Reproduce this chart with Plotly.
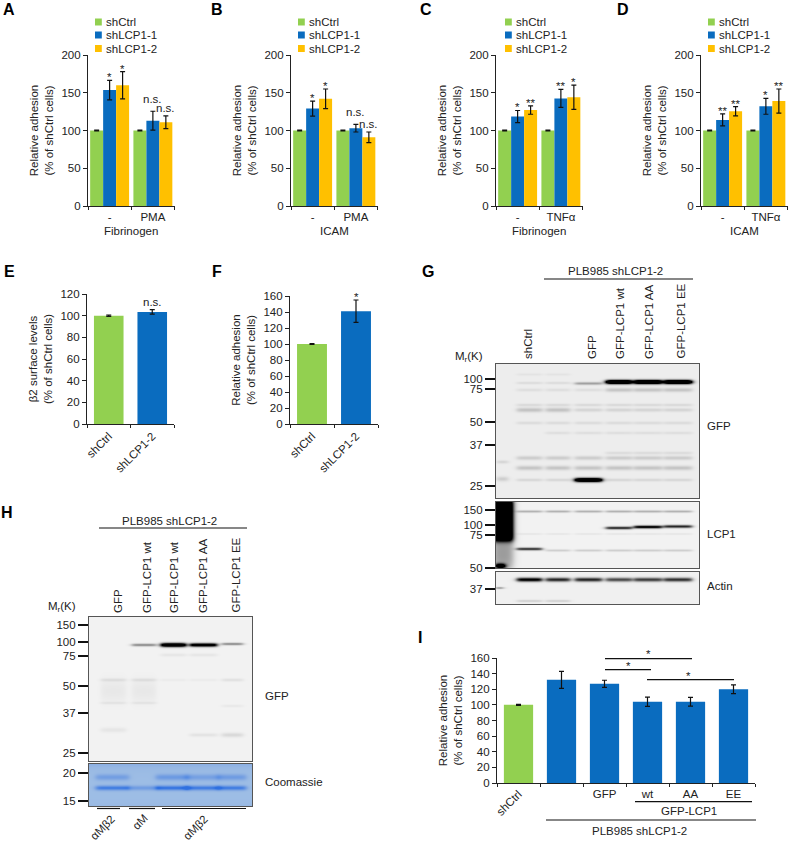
import numpy as np
import plotly.graph_objects as go

W, H = 791, 842
GREEN, BLUE, YELLOW = "#92D050", "#0A6CBF", "#FFC000"
INK = "#222222"
FONT = "Liberation Sans, Arial, sans-serif"
FS = 11.5

SERIES = ["shCtrl", "shLCP1-1", "shLCP1-2"]

# ---- grouped bar data
A_cats = ["-", "PMA"]
A_ctrl = [100, 100]; A_ctrl_err = [0.6, 0.6]
A_sh1 = [153.5, 113]; A_sh1_err = [13, 12.5]
A_sh2 = [160, 111]; A_sh2_err = [18, 8.5]
A_sig = [["*", "n.s."], ["*", "n.s."]]

B_cats = ["-", "PMA"]
B_ctrl = [100, 100]; B_ctrl_err = [0.6, 0.6]
B_sh1 = [129, 103]; B_sh1_err = [10, 5]
B_sh2 = [142, 91]; B_sh2_err = [13, 7]
B_sig = [["*", "n.s."], ["*", "n.s."]]

C_cats = ["-", "TNFα"]
C_ctrl = [100, 100]; C_ctrl_err = [0.6, 0.6]
C_sh1 = [118.5, 142.5]; C_sh1_err = [8, 12]
C_sh2 = [127, 144]; C_sh2_err = [5.5, 16]
C_sig = [["*", "**"], ["**", "*"]]

D_cats = ["-", "TNFα"]
D_ctrl = [100, 100]; D_ctrl_err = [0.6, 0.6]
D_sh1 = [114, 132]; D_sh1_err = [8, 10.5]
D_sh2 = [125.5, 139]; D_sh2_err = [6, 16]
D_sig = [["**", "*"], ["**", "**"]]

# ---- simple bar data
E_cats = ["shCtrl", "shLCP1-2"]
E_vals = [100, 103.5]; E_errs = [0.6, 2]
F_cats = ["shCtrl", "shLCP1-2"]
F_vals = [100, 141]; F_errs = [0.6, 14]
I_cats = ["shCtrl", "shLCP1-2", "GFP", "wt", "AA", "EE"]
I_ticks = ["", "", "GFP", "wt", "AA", "EE"]
I_vals = [100, 132, 127, 104, 104, 120]
I_errs = [0.6, 11, 4.5, 6, 5.5, 5.5]

# ---- blot band tables: lanes, row, thickness, darkness
G_lanes = [(21, 46), (50, 74), (79, 106), (110, 136), (138, 166), (168, 196)]
G_gfp_bands = [
    ([3, 4, 5], 18, 2.0, 1.7), ([2], 19.5, 1.4, .3), ([2], 116, 2.0, 1.6),
    ([0, 1], 10.5, 1.3, .04), ([0, 1], 19, 1.3, .07), ([0, 1, 2], 26, 1.6, .06), ([3, 4, 5], 26, 2, .16),
    ([0, 1, 2, 3, 4, 5], 41, 1.4, .08), ([0, 1], 46, 2.2, .17), ([2, 3, 4, 5], 46, 1.8, .1),
    ([0, 1, 2, 3, 4, 5], 59, 1.6, .07), ([1, 2, 3, 4, 5], 69, 1.5, .06), ([3, 4, 5], 89, 1.5, .07),
    ([0, 1, 2, 3, 4, 5], 94, 2, .13), ([0, 1, 2, 3, 4, 5], 104, 2.2, .16), ([0, 1, 3, 4, 5], 116, 1.5, .09),
]
G_gfp_marker = [(98, 1.6, .1), (115, 2.4, .13)]
G_lcp_bands = [
    ([0, 1, 2, 3, 4, 5], 9.5, 1.2, .25), ([0], 47, 1.4, .75), ([1, 2, 3, 4, 5], 48.5, 1.2, .14),
    ([3], 26, 1.4, .8), ([4], 25, 1.5, 1.0), ([5], 24.5, 1.5, .8),
    ([0, 1, 2, 3, 4, 5], 32, 1, .05),
]
G_act_dark = [1.0, .8, .8, .65, .7, .75]
H_lanes = [(12, 37), (43, 67), (72, 97), (101, 128), (133, 154)]
H_gfp_bands = [
    ([1], 28, 1.4, .4), ([2], 28, 2.0, 1.4), ([3], 28, 1.8, 1.2), ([4], 27, 1.3, .4),
    ([2, 3], 38, 1.6, .05), ([0, 1, 4], 63, 1.6, .07), ([2, 3], 63, 1.4, .03),
    ([0, 1], 74, 12, .04), ([0, 1], 86, 1.3, .05), ([0], 113, 2.5, .05),
    ([3], 118, 1.8, .06), ([4], 118, 2.2, .1), ([4], 89, 1.5, .04),
]
H_coo_upper = [.6, 0, .7, .55, .65]
H_coo_lower = [.9, .45, 1, .9, .9]

G_gfp_mw = [(15, "100"), (25, "75"), (58, "50"), (81, "37"), (122, "25")]
G_lcp_mw = [(8, "150"), (23, "100"), (33, "75"), (65.5, "50")]
G_act_mw = [(17, "37")]
H_gfp_mw = [(8, "150"), (25, "100"), (39, "75"), (69, "50"), (96, "37"), (136, "25")]
H_coo_mw = [(9, "20"), (37, "15")]


def fx(x):
    return x / W


def fy(y):
    return 1 - y / H


fig = go.Figure()
shapes, annots = [], []
n_ax = [0]


def text(x, y, s, size=FS, angle=0, xa="center", ya="middle", color=INK, bold=False):
    if xa == "left":
        x -= 2
    annots.append(dict(x=fx(x), y=fy(y), xref="paper", yref="paper", text=f"<b>{s}</b>" if bold else s,
                       showarrow=False, textangle=angle, xanchor=xa, yanchor=ya,
                       font=dict(family=FONT, size=size, color=color)))


def line(x0, x1, y, w=1.2):
    shapes.append(dict(type="line", xref="paper", yref="paper", x0=fx(x0), x1=fx(x1), y0=fy(y), y1=fy(y),
                       line=dict(color="#111111", width=w)))


def new_axes(x0, x1, ytop, ybot):
    n_ax[0] += 1
    n = n_ax[0]
    xn, yn = f"xaxis{n}", f"yaxis{n}"
    fig.update_layout({xn: dict(domain=[fx(x0), fx(x1)], anchor=f"y{n}", automargin=False),
                       yn: dict(domain=[fy(ybot), fy(ytop)], anchor=f"x{n}", automargin=False)})
    return n, f"x{n}", f"y{n}", xn, yn


def style_axes(xn, yn, ymax, dtick, ytitle, standoff, nc, tickangle=0, ticktext=None, cats=None):
    xa = dict(type="category", range=[-.5, nc - .5], showline=True, linecolor=INK, linewidth=1.2, ticks="outside",
              tickson="boundaries", ticklen=3, tickcolor=INK, showgrid=False, zeroline=False,
              tickfont=dict(family=FONT, size=FS, color=INK), tickangle=tickangle, fixedrange=True,
              categoryorder="array", categoryarray=cats, automargin=False)
    if ticktext is not None:
        xa.update(tickmode="array", tickvals=cats, ticktext=ticktext)
    ya = dict(range=[0, ymax], dtick=dtick, showline=True, linecolor=INK, linewidth=1.2, ticks="outside", ticklen=4,
              tickcolor=INK, showgrid=False, zeroline=False, tickfont=dict(family=FONT, size=FS, color=INK),
              title=dict(text=ytitle, standoff=standoff, font=dict(family=FONT, size=FS, color=INK)),
              fixedrange=True, automargin=False)
    fig.update_layout({xn: xa, yn: ya})


def bar(xr, yr, x, y, e, color, name, width, offset=None):
    fig.add_trace(go.Bar(x=x, y=y, name=name, xaxis=xr, yaxis=yr, width=width, offset=offset,
                         marker=dict(color=color, line=dict(width=0)), showlegend=False,
                         error_y=dict(type="data", array=e, color="#111111", thickness=1.2, width=2.5)))


def grouped(letter, lx, ax0, cats, ctrl, ctrl_e, s1, s1_e, s2, s2_e, sig, sub, legx):
    n, xr, yr, xn, yn = new_axes(ax0, ax0 + 86.5, 55, 206)
    style_axes(xn, yn, 200, 50, "Relative adhesion<br>(% of shCtrl cells)", 5, 2, cats=cats)
    for vals, err, col, name, off in ((ctrl, ctrl_e, GREEN, SERIES[0], -.45), (s1, s1_e, BLUE, SERIES[1], -.15),
                                      (s2, s2_e, YELLOW, SERIES[2], .15)):
        bar(xr, yr, cats, vals, err, col, name, .3, off)
    for j, (vals, err, pos) in enumerate(((s1, s1_e, 0), (s2, s2_e, .3))):
        for i in range(2):
            lab = sig[j][i]
            annots.append(dict(x=i + pos, y=vals[i] + err[i], xref=xr, yref=yr, text=lab, showarrow=False,
                               xanchor="center", yanchor="bottom",
                               yshift=-5 if "*" in lab else (4 if j == 0 else 0),
                               font=dict(family=FONT, size=FS, color=INK)))
    text(lx, 9, letter, 16, bold=True, color="#000000")
    text(ax0 + 43, 231, sub)
    for name, col, ly in zip(SERIES, (GREEN, BLUE, YELLOW), (22, 35, 48.5)):
        shapes.append(dict(type="rect", xref="paper", yref="paper", x0=fx(legx), x1=fx(legx + 6.8),
                           y0=fy(ly + 3.5), y1=fy(ly - 3.5), fillcolor=col, line=dict(width=0)))
        text(legx + 10.5, ly, name, xa="left")


grouped("A", 9, 88, A_cats, A_ctrl, A_ctrl_err, A_sh1, A_sh1_err, A_sh2, A_sh2_err, A_sig, "Fibrinogen", 95)
grouped("B", 217, 291, B_cats, B_ctrl, B_ctrl_err, B_sh1, B_sh1_err, B_sh2, B_sh2_err, B_sig, "ICAM", 298)
grouped("C", 426, 496, C_cats, C_ctrl, C_ctrl_err, C_sh1, C_sh1_err, C_sh2, C_sh2_err, C_sig, "Fibrinogen", 505)
grouped("D", 623, 701, D_cats, D_ctrl, D_ctrl_err, D_sh1, D_sh1_err, D_sh2, D_sh2_err, D_sig, "ICAM", 708)

# E
n, xr, yr, xn, yn = new_axes(87, 174, 294, 424)
style_axes(xn, yn, 120, 20, "β2 surface levels<br>(% of shCtrl cells)", 5, 2, tickangle=-45, cats=E_cats)
bar(xr, yr, E_cats, E_vals, E_errs, [GREEN, BLUE], "β2", .68)
annots.append(dict(x=1, y=E_vals[1] + E_errs[1], xref=xr, yref=yr, text="n.s.", showarrow=False, yanchor="bottom",
                   yshift=0, font=dict(family=FONT, size=FS, color=INK)))
text(9, 272, "E", 16, bold=True, color="#000000")

# F
n, xr, yr, xn, yn = new_axes(290, 378, 296, 424)
style_axes(xn, yn, 160, 20, "Relative adhesion<br>(% of shCtrl cells)", 5, 2, tickangle=-45, cats=F_cats)
bar(xr, yr, F_cats, F_vals, F_errs, [GREEN, BLUE], "adhesion", .68)
annots.append(dict(x=1, y=F_vals[1] + F_errs[1], xref=xr, yref=yr, text="*", showarrow=False, yanchor="bottom",
                   yshift=-5, font=dict(family=FONT, size=FS, color=INK)))
text(217, 272, "F", 16, bold=True, color="#000000")

# I
n, xr, yr, xn, yn = new_axes(497, 755, 658, 783)
style_axes(xn, yn, 160, 20, "Relative adhesion<br>(% of shCtrl cells)", 5, 6, cats=I_cats, ticktext=I_ticks)
bar(xr, yr, I_cats, I_vals, I_errs, [GREEN] + [BLUE] * 5, "adhesion", .68)
text(420, 637, "I", 16, bold=True, color="#000000")
text(509, 803, "shCtrl", angle=-45)
line(605, 692, 658.7); line(605, 651, 669.7); line(647, 734, 679.7)
text(648.7, 654, "*"); text(628, 666, "*"); text(688, 676, "*")
line(635, 752, 801.7); text(689, 811, "GFP-LCP1")
line(546, 756, 820); text(639, 831, "PLB985 shLCP1-2")


# ---- blots
def box(xx, a, b, soft=1.5):
    return 1 / (1 + np.exp(-(xx - a) / soft)) * 1 / (1 + np.exp((xx - b) / soft))


def band(xx, yy, a, b, y, t, d):
    return d * box(xx, a, b)[None, :] * np.exp(-((yy[:, None] - y) / t) ** 2)


def blot(x0, x1, y0, y1, z, mw, scale, zmax=1.0):
    w, h = x1 - x0, y1 - y0
    n, xr, yr, xn, yn = new_axes(x0, x1, y0, y1)
    fig.add_trace(go.Heatmap(z=z, x=np.arange(w) + .5, y=np.arange(h) + .5, colorscale=scale, zmin=0, zmax=zmax,
                             showscale=False, hoverinfo="skip", xaxis=xr, yaxis=yr))
    bord = dict(showline=True, mirror=True, linecolor="#555555", linewidth=1.2, showgrid=False, zeroline=False,
                fixedrange=True, automargin=False)
    fig.update_layout({xn: dict(range=[0, w], showticklabels=False, ticks="", **bord),
                       yn: dict(range=[h, 0], tickmode="array", tickvals=[m[0] for m in mw],
                                ticktext=[m[1] for m in mw], ticks="outside", ticklen=10, tickwidth=1.6,
                                tickcolor="#111111", tickfont=dict(family=FONT, size=FS, color=INK), **bord)})


GRAY = [[0, "#ffffff"], [1, "#000000"]]


def gray_panel(w, h, lanes, bands, base=.07):
    xx, yy = np.arange(w) + .5, np.arange(h) + .5
    z = np.full((h, w), float(base))
    for ls, y, t, d in bands:
        for l in ls:
            z += band(xx, yy, lanes[l][0], lanes[l][1], y, t, d)
    return z, xx, yy


# G
z, xx, yy = gray_panel(203, 134, G_lanes, G_gfp_bands)
for y, t, d in G_gfp_marker:
    z += band(xx, yy, 1, 12, y, t, d)
blot(496, 699, 364, 498, np.clip(z, 0, 1), G_gfp_mw, GRAY)

z, xx, yy = gray_panel(203, 66, G_lanes, G_lcp_bands, .05)
z += 1.5 * box(xx, -3, 17)[None, :] * box(yy, -3, 39, 1.5)[:, None]
z += .35 * box(xx, -3, 17, 2)[None, :] * box(yy, 38, 66, 3)[:, None]
z += 1.3 * band(xx, yy, 0, 9, 64, 2.5, 1)
blot(496, 699, 502, 568, np.clip(z, 0, 1), G_lcp_mw, GRAY)

act = [(G_lanes[i], 7.7, 2.0, d) for i, d in enumerate(G_act_dark)]
z = np.full((32, 203), .06)
xx, yy = np.arange(203) + .5, np.arange(32) + .5
for (a, b), y, t, d in act:
    z = z + band(xx, yy, a, b, y, t, d)
for l in (0, 1):
    z = z + band(xx, yy, G_lanes[l][0], G_lanes[l][1], 29, 1.2, .12)
z = z + band(xx, yy, 0, 7, 16, 1, .4)
blot(496, 699, 572, 604, np.clip(z, 0, 1), G_act_mw, GRAY)

# H
z, xx, yy = gray_panel(163, 144, H_lanes, H_gfp_bands, .05)
blot(89, 252, 617, 761, np.clip(z, 0, 1), H_gfp_mw, GRAY)

xx, yy = np.arange(163) + .5, np.arange(42) + .5
z = np.full((42, 163), .1) + .16 * np.exp(-yy[:, None] / 4) + .05 * np.exp((yy[:, None] - 42) / 3)
for i, (a, b) in enumerate(H_lanes):
    a2, b2 = (a - 5, b + 3)
    z = z + band(xx, yy, a2, b2, 13.3, 3.0, H_coo_upper[i] * .6) + band(xx, yy, a2, b2, 24, 2.3, H_coo_lower[i] * .85)
COO = [[0, "#a9c6e6"], [.3, "#86abe2"], [.65, "#5d90e2"], [1, "#2f70e0"]]
blot(89, 252, 764, 806, np.clip(z, 0, 1), H_coo_mw, COO)

# blot text
text(428, 272, "G", 16, bold=True, color="#000000")
text(615, 271, "PLB985 shLCP1-2"); line(544, 693, 279)
for x, s in ((528, "shCtrl"), (592, "GFP"), (620, "GFP-LCP1 wt"), (649, "GFP-LCP1 AA"), (680, "GFP-LCP1 EE")):
    text(x, 361, s, angle=-90, ya="bottom")
text(469, 357, "M<sub>r</sub>(K)")
text(707, 426, "GFP", xa="left"); text(707, 534, "LCP1", xa="left"); text(707, 586, "Actin", xa="left")

text(7, 512, "H", 16, bold=True, color="#000000")
text(169, 521, "PLB985 shLCP1-2"); line(99, 247, 528)
for x, s in ((118, "GFP"), (147, "GFP-LCP1 wt"), (174, "GFP-LCP1 wt"), (203, "GFP-LCP1 AA"), (235, "GFP-LCP1 EE")):
    text(x, 615, s, angle=-90, ya="bottom")
text(62, 607, "M<sub>r</sub>(K)")
text(265, 696, "GFP", xa="left"); text(265, 782, "Coomassie", xa="left")
line(97, 120, 808.5); line(129, 155, 808.5); line(162, 246, 808.5)
text(102, 828, "αMβ2", angle=-45); text(140, 822, "αM", angle=-45); text(195, 828, "αMβ2", angle=-45)

fig.update_layout(width=W, height=H, margin=dict(l=0, r=0, t=0, b=0, pad=0, autoexpand=False),
                  paper_bgcolor="white", plot_bgcolor="white",
                  barmode="overlay", showlegend=False, shapes=shapes, annotations=annots,
                  font=dict(family=FONT, size=FS, color=INK))
fig.write_html("out.html", config={"displayModeBar": False, "responsive": False},
               post_script="document.body.style.margin='0';document.documentElement.style.overflow='hidden';window.dispatchEvent(new Event('resize'));")
